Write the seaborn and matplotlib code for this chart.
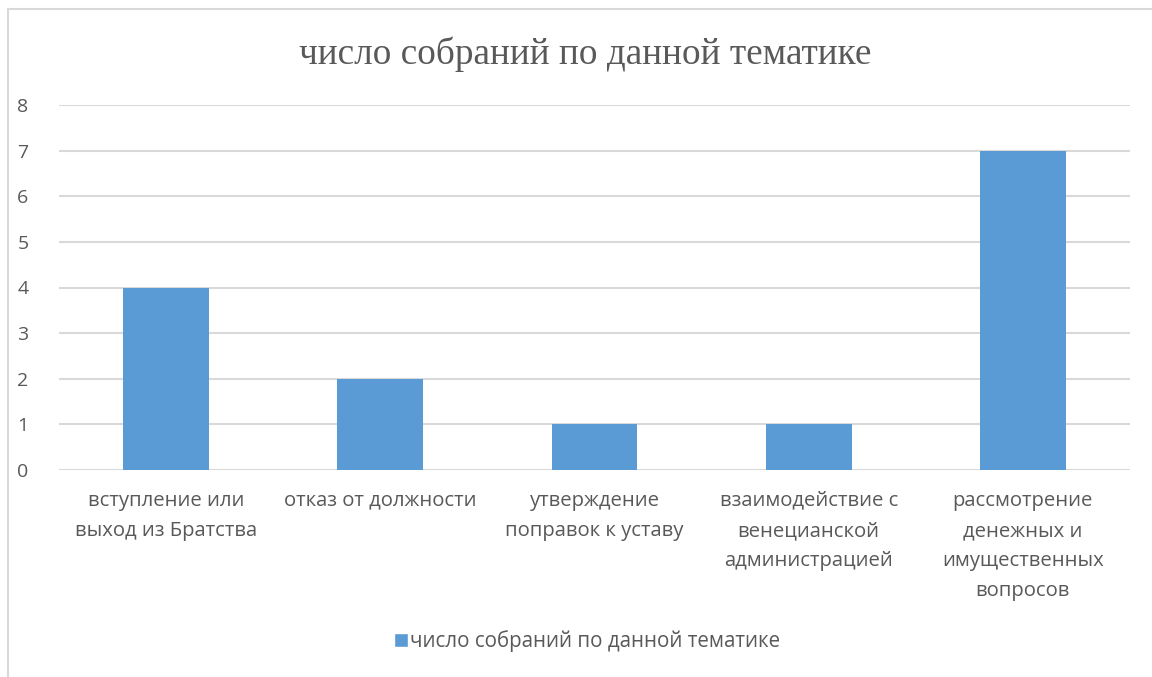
import matplotlib
matplotlib.use("Agg")
import matplotlib.pyplot as plt
import seaborn as sns
import pandas as pd
from matplotlib.lines import Line2D
from matplotlib.patches import Patch

categories = [
    "вступление или\nвыход из Братства",
    "отказ от должности",
    "утверждение\nпоправок к уставу",
    "взаимодействие с\nвенецианской\nадминистрацией",
    "рассмотрение\nденежных и\nимущественных\nвопросов",
]
meetings = [4, 2, 1, 1, 7]
series_name = "число собраний по данной тематике"
title = "число собраний по данной тематике"

sns.set_style("white")
plt.rcParams["font.family"] = ["Open Sans", "DejaVu Sans"]

text_color = "#595959"
grid_color = "#d9d9d9"
bar_color = "#5b9bd5"

df = pd.DataFrame({"category": categories, "value": meetings})

fig = plt.figure(figsize=(11.52, 6.77), dpi=100)
ax = fig.add_axes([59 / 1152, 1 - 470 / 677, (1130 - 59) / 1152, (470 - 105) / 677])

sns.barplot(data=df, x="category", y="value", ax=ax, color=bar_color,
            width=0.4, saturation=1, linewidth=0, zorder=3)

ax.set_ylim(0, 8)
ax.set_xlim(-0.5, len(categories) - 0.5)
ax.set_yticks(range(0, 9))
ax.yaxis.grid(True, color=grid_color, linewidth=1.5, zorder=0)
ax.set_axisbelow(True)
for s in ax.spines.values():
    s.set_visible(False)
ax.set_xlabel("")
ax.set_ylabel("")
ax.tick_params(axis="y", length=0, pad=22, labelsize=14, labelcolor=text_color)
ax.tick_params(axis="x", length=0, pad=15, labelsize=14.6, labelcolor=text_color)
for lbl in ax.get_xticklabels():
    lbl.set_linespacing(1.68)
    lbl.set_horizontalalignment("center")

fig.text(585 / 1152, 1 - 54 / 677, title, ha="center", va="center",
         fontsize=26.8, color=text_color, family="Liberation Serif")

fig.legend(handles=[Patch(facecolor=bar_color, label=series_name)],
           loc="center", bbox_to_anchor=(587 / 1152, 1 - 641 / 677),
           frameon=False, fontsize=14.8, labelcolor=text_color,
           handlelength=0.7, handleheight=0.7, handletextpad=0.1)

# chart area frame
fx, fy = 7.5 / 1152, 1 - 9 / 677
fig.add_artist(Line2D([fx, fx], [0, fy], transform=fig.transFigure, color=grid_color, lw=1.5))
fig.add_artist(Line2D([fx, 1], [fy, fy], transform=fig.transFigure, color=grid_color, lw=1.5))

fig.savefig("out.png", dpi=100, facecolor="white")
